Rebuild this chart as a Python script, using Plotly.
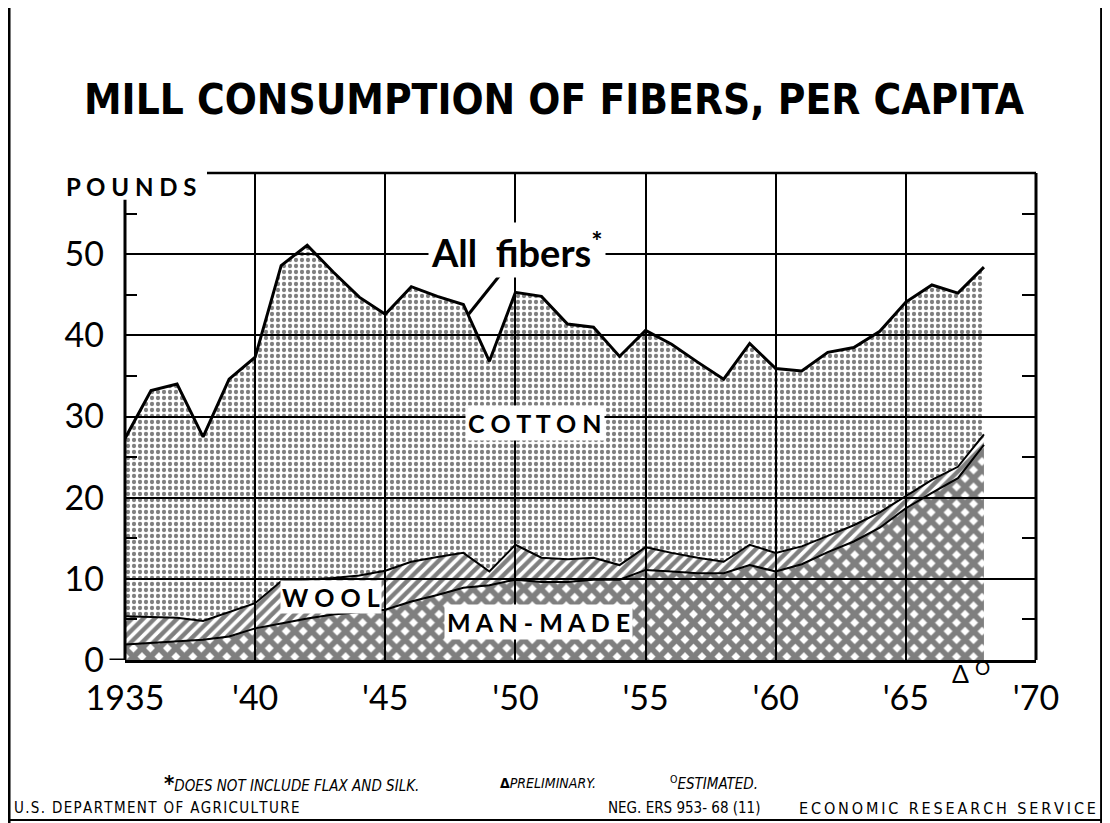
import plotly.graph_objects as go

# per-capita mill consumption, pounds
years = list(range(1935, 1969))
man_made = [1.9, 2.1, 2.3, 2.5, 2.9, 3.9, 4.5, 5.1, 5.6, 5.9,
            6.2, 7.2, 8.0, 8.9, 9.2, 9.9, 9.6, 9.6, 9.9, 9.9,
            11.1, 10.9, 10.7, 10.7, 11.7, 10.9, 11.8, 13.3, 14.6, 16.3,
            18.7, 20.6, 22.4, 26.5]
wool = [3.5, 3.2, 2.9, 2.3, 3.0, 3.1, 5.2, 4.8, 4.5, 4.5,
        4.8, 4.9, 4.7, 4.3, 1.7, 4.3, 3.0, 2.8, 2.7, 1.8,
        2.8, 2.3, 1.9, 1.4, 2.5, 2.3, 2.2, 2.0, 2.0, 1.9,
        1.5, 1.6, 1.4, 1.3]
cotton = [21.9, 27.9, 28.8, 22.7, 28.7, 30.3, 38.9, 41.2, 37.7, 34.3,
          31.6, 33.9, 32.1, 30.6, 25.9, 31.1, 32.2, 29.0, 28.4, 25.7,
          26.7, 25.7, 24.1, 22.5, 24.8, 22.7, 21.6, 22.6, 21.9, 22.3,
          23.9, 24.0, 21.4, 20.6]

x_ticks = [1935, 1940, 1945, 1950, 1955, 1960, 1965, 1970]
x_labels = ["1935", "'40", "'45", "'50", "'55", "'60", "'65", "'70"]
y_ticks = [0, 10, 20, 30, 40, 50]
half_ticks = [5, 15, 25, 35, 45, 55]

NUM = "Lato, 'DejaVu Sans', sans-serif"
COND = "'DejaVu Sans Condensed', 'Liberation Sans Narrow', sans-serif"
CLEAR = "rgba(0,0,0,0)"
NB = "\u00a0"


def spaced(s, sep="\u2009"):
    return sep.join(s)


fig = go.Figure()
fig.add_trace(go.Scatter(
    x=years, y=man_made, stackgroup="fib", mode="lines",
    line=dict(color="black", width=2), fillcolor=CLEAR,
    fillpattern=dict(shape="x", fgcolor="black", bgcolor=CLEAR, fillmode="overlay",
                     size=12, solidity=0.72),
    name="Man-made"))
fig.add_trace(go.Scatter(
    x=years, y=wool, stackgroup="fib", mode="lines",
    line=dict(color="black", width=2), fillcolor=CLEAR,
    fillpattern=dict(shape="/", fgcolor="black", bgcolor=CLEAR, fillmode="overlay",
                     size=8, solidity=0.55),
    name="Wool"))
fig.add_trace(go.Scatter(
    x=years, y=cotton, stackgroup="fib", mode="lines",
    line=dict(color="black", width=3), fillcolor=CLEAR,
    fillpattern=dict(shape=".", fgcolor="black", bgcolor=CLEAR, fillmode="overlay",
                     size=6, solidity=0.4),
    name="Cotton"))
# empty trace so the right-hand tick axis gets drawn
fig.add_trace(go.Scatter(x=[], y=[], yaxis="y2", hoverinfo="skip", showlegend=False))

fig.update_layout(
    width=1102, height=815,
    margin=dict(l=117, r=74, t=165, b=163),
    paper_bgcolor="white", plot_bgcolor="white",
    showlegend=False,
    font=dict(family=NUM, color="black"),
    xaxis=dict(range=[1935, 1970], tickvals=x_ticks, ticktext=x_labels,
               showgrid=True, gridcolor="black", gridwidth=1.5,
               showline=True, linecolor="black", linewidth=3,
               ticks="", tickfont=dict(size=34, family=NUM),
               ticklabelstandoff=6, zeroline=False, fixedrange=True),
    yaxis=dict(range=[0, 60], tickvals=y_ticks,
               showgrid=True, gridcolor="black", gridwidth=1.5,
               showline=False, ticks="", zeroline=False,
               tickfont=dict(size=34, family=NUM), ticklabelstandoff=20,
               minor=dict(tickvals=half_ticks, ticks="inside",
                          ticklen=12, tickwidth=2, tickcolor="black", showgrid=False),
               fixedrange=True),
    yaxis2=dict(range=[0, 60], overlaying="y", side="right", showgrid=False,
                showticklabels=False, tickvals=half_ticks,
                ticks="inside", ticklen=14, tickwidth=2, tickcolor="black",
                zeroline=False, showline=False, fixedrange=True),
)

shapes = [
    # plot frame pieces
    dict(type="line", xref="paper", yref="paper", x0=0, x1=0, y0=0, y1=0.945,
         line=dict(color="black", width=3)),
    dict(type="line", xref="paper", yref="paper", x0=0.09, x1=1, y0=1, y1=1,
         line=dict(color="black", width=2.5)),
    dict(type="line", xref="paper", yref="paper", x0=1, x1=1, y0=0, y1=1,
         line=dict(color="black", width=3)),
    dict(type="line", xref="paper", yref="y", x0=-0.017, x1=0, y0=0, y1=0,
         line=dict(color="black", width=3)),
    # leader for "All fibers"
    dict(type="line", xref="x", yref="y", x0=1949.5, y0=47.8, x1=1948.2, y1=42.6,
         line=dict(color="black", width=3)),
    # page border
    dict(type="line", xref="paper", yref="paper", x0=-0.1273, x1=-0.1273, y0=-0.34, y1=1.36,
         line=dict(color="black", width=3)),
    dict(type="line", xref="paper", yref="paper", x0=1.072, x1=1.072, y0=-0.34, y1=1.36,
         line=dict(color="black", width=3)),
    dict(type="line", xref="paper", yref="paper", x0=-0.1273, x1=1.072, y0=-0.3285, y1=-0.3285,
         line=dict(color="black", width=2)),
]
fig.update_layout(shapes=shapes)


def note(text, x, y, xanchor="center", size=14, family=COND, **kw):
    return dict(text=text, xref="paper", yref="paper", x=x, y=y,
                xanchor=xanchor, yanchor="middle", showarrow=False,
                font=dict(family=family, size=size, **kw))


def label(text, x, y, size=25, pad=2):
    return dict(text=text, x=x, y=y, xanchor="center", yanchor="middle",
                showarrow=False, bgcolor="white", borderpad=pad,
                font=dict(family=NUM, size=size, weight="bold"))


anns = [
    note("MILL CONSUMPTION OF FIBERS, PER CAPITA", 0.472, 1.150, size=42, weight="bold"),
    note("P O U N D S", 0.08, 0.973, xanchor="right", size=24, family=NUM, weight="bold"),
    label("All" + NB * 2 + "fibers<sup>*</sup>", 1950.06, 50.5, size=38),
    label("C O T T O N", 1950.75, 29.2),
    label("W O O L", 1942.9, 7.8, pad=1),
    label("M A N - M A D E", 1950.9, 4.7),
    # preliminary / estimated markers under the last two years
    dict(text="Δ", x=1967.1, xref="x", y=-0.026, yref="paper", xanchor="center",
         yanchor="middle", showarrow=False, font=dict(family=NUM, size=25)),
    dict(text="O", x=1967.95, xref="x", y=-0.016, yref="paper", xanchor="center",
         yanchor="middle", showarrow=False, font=dict(family=NUM, size=19)),
    note("<b><span style='font-size:22px'>*</span></b><i>DOES NOT INCLUDE FLAX AND SILK.</i>",
         0.0406, -0.2526, xanchor="left", size=15),
    note("<b>Δ</b><i>PRELIMINARY.</i>", 0.4094, -0.2526, xanchor="left"),
    note("<sup>O</sup><i>ESTIMATED.</i>", 0.596, -0.2526, xanchor="left", size=15),
    note(spaced("U.S. DEPARTMENT OF AGRICULTURE", "\u200a"), -0.124, -0.304,
         xanchor="left", size=15),
    note("NEG. ERS 953- 68 (11)", 0.528, -0.304, xanchor="left", size=15),
    note(spaced("ECONOMIC RESEARCH SERVICE"), 1.068, -0.304, xanchor="right", size=16),
]
fig.update_layout(annotations=anns)

fig.write_html("out.html")
